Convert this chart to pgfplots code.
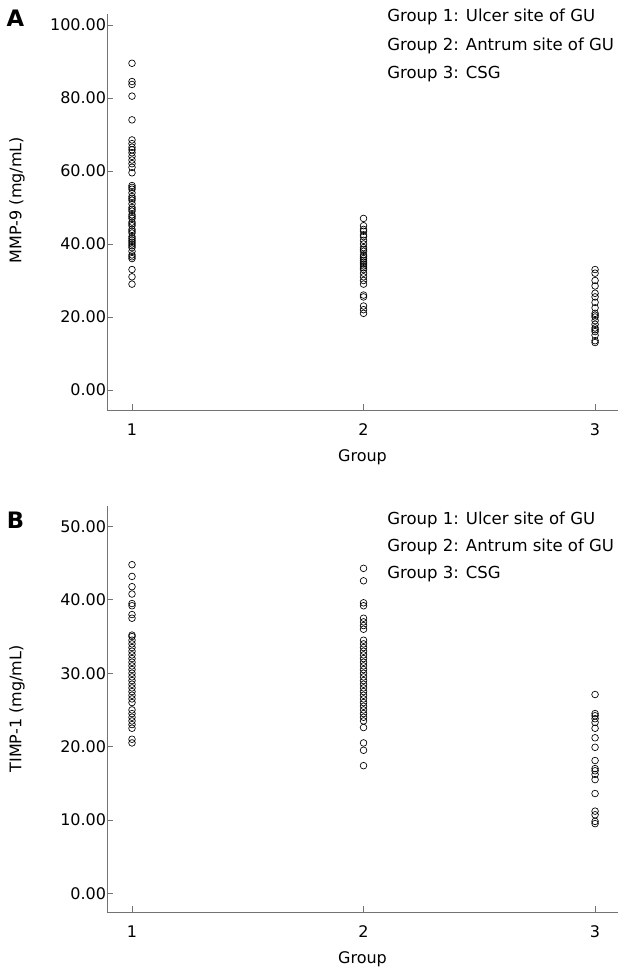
\documentclass[border=0pt]{standalone}
\usepackage{fontspec}
\setmainfont{DejaVu Sans}
\usepackage{pgfplots}
\pgfplotsset{compat=1.18}
\begin{document}
\fontsize{12pt}{14pt}\selectfont
\begin{tikzpicture}
\useasboundingbox (0,0) rectangle (469.5pt,729pt);
\pgfplotsset{
 panel/.style={
  scale only axis,
  width=383.25pt,
  axis x line*=bottom, axis y line*=left,
  axis line style={black!55, line width=0.6pt},
  tick style={black!55, line width=0.6pt},
  tick align=inside,
  major tick length=4.5pt,
  xmin=0.892, xmax=3.099,
  xtick={1,2,3},
  xlabel={Group},
  /pgf/number format/assume math mode=true,
  y tick label style={/pgf/number format/.cd, fixed, fixed zerofill, precision=2, /tikz/.cd, xshift=3.5pt},
  x tick label style={yshift=-6pt},
  tick label style={font=\fontsize{12pt}{14pt}\selectfont, black},
  label style={font=\fontsize{12pt}{14pt}\selectfont},
  ylabel style={at={(axis description cs:-0.176,0.5)}, anchor=center},
  xlabel style={yshift=-2pt},
  clip=false,
 },
 pts/.style={only marks, mark=o, mark size=2.5pt, mark options={black, line width=0.5pt}},
}
% Panel A
\begin{axis}[panel, at={(80.25pt,421.5pt)}, anchor=south west, height=297pt,
  ymin=-5.48, ymax=103.0, ytick={0,20,40,60,80,100}, ylabel={MMP-9 (mg/mL)},
  ylabel style={at={(axis description cs:-0.176,0.53)}}]
\addplot[pts] coordinates {(1,89.5)(1,84.5)(1,83.7)(1,80.5)(1,74.0)(1,68.5)(1,67.5)(1,66.5)(1,65.8)(1,65)(1,64)(1,63)(1,62)(1,61)(1,59.5)(1,56)(1,55.5)(1,55)(1,54)(1,53)(1,52.5)(1,52)(1,51)(1,50)(1,49.5)(1,49)(1,48)(1,47.5)(1,47)(1,46)(1,45.5)(1,45)(1,44)(1,43.5)(1,43)(1,42)(1,41.5)(1,41)(1,40.5)(1,40)(1,39.5)(1,39)(1,38)(1,37)(1,36.5)(1,36)(1,33)(1,31)(1,29)};
\addplot[pts] coordinates {(2,47)(2,45)(2,44)(2,43.5)(2,42.5)(2,42)(2,41)(2,40)(2,39)(2,38.5)(2,38)(2,37)(2,36.5)(2,36)(2,35.5)(2,35)(2,34.5)(2,34)(2,33.5)(2,33)(2,32)(2,31)(2,30)(2,29)(2,26)(2,25.5)(2,23)(2,22)(2,21)};
\addplot[pts] coordinates {(3,33)(3,32)(3,30)(3,28.5)(3,26.5)(3,25.5)(3,24)(3,22.5)(3,21)(3,20.5)(3,20)(3,19)(3,18)(3,17)(3,16.5)(3,16)(3,15)(3,13.5)(3,13)};
\end{axis}
% Panel B
\begin{axis}[panel, at={(80.25pt,45pt)}, anchor=south west, height=304.5pt,
  ymin=-2.55, ymax=52.8, ytick={0,10,20,30,40,50}, ylabel={TIMP-1 (mg/mL)}]
\addplot[pts] coordinates {(1,44.8)(1,43.2)(1,41.8)(1,40.8)(1,39.5)(1,39.2)(1,38)(1,37.5)(1,35.2)(1,35)(1,34.5)(1,34)(1,33.5)(1,33)(1,32.5)(1,32)(1,31.5)(1,31)(1,30.5)(1,30)(1,29.5)(1,29)(1,28.5)(1,28)(1,27.5)(1,27)(1,26.5)(1,26)(1,25)(1,24.5)(1,24)(1,23.5)(1,23)(1,22.5)(1,21)(1,20.5)};
\addplot[pts] coordinates {(2,44.3)(2,42.6)(2,39.6)(2,39.2)(2,37.5)(2,37)(2,36.5)(2,36)(2,34.5)(2,34)(2,33.5)(2,33)(2,32.5)(2,32)(2,31.5)(2,31)(2,30.5)(2,30)(2,29.5)(2,29)(2,28.5)(2,28)(2,27.5)(2,27)(2,26.5)(2,26)(2,25.5)(2,25)(2,24.5)(2,24)(2,23.5)(2,22.6)(2,20.5)(2,19.5)(2,17.4)};
\addplot[pts] coordinates {(3,27.1)(3,24.5)(3,24.2)(3,23.8)(3,23.3)(3,22.5)(3,21.2)(3,19.9)(3,18.1)(3,17)(3,16.7)(3,16.2)(3,15.5)(3,13.6)(3,11.2)(3,10.7)(3,9.8)(3,9.5)};
\end{axis}
% group descriptions
\foreach \yy/\tt in {717.75/{Group 1: Ulcer site of GU}, 696/{Group 2: Antrum site of GU}, 675/{Group 3: CSG},
                     340.5/{Group 1: Ulcer site of GU}, 320.25/{Group 2: Antrum site of GU}, 300/{Group 3: CSG}}
  \node[anchor=west, inner sep=0pt, font=\fontsize{12.4pt}{14pt}\selectfont] at (290.25pt,\yy pt-1.2pt) {\tt};
\node[font=\bfseries\fontsize{17pt}{19pt}\selectfont, inner sep=0pt] at (11.6pt,715pt) {A};
\node[font=\bfseries\fontsize{17pt}{19pt}\selectfont, inner sep=0pt] at (11.6pt,339pt) {B};
\end{tikzpicture}
\end{document}
